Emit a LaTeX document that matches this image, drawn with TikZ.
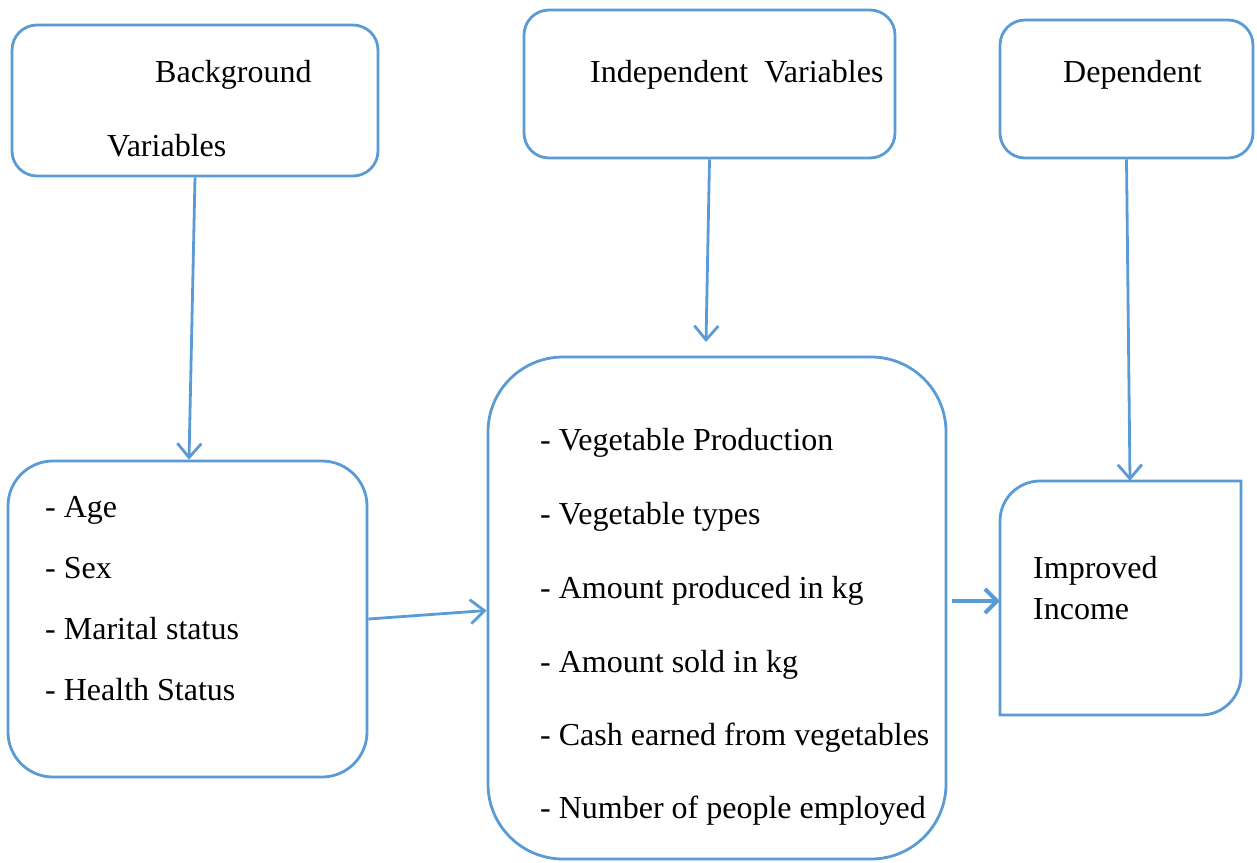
\documentclass[tikz,border=0pt]{standalone}
\usepackage{fontspec}
\setmainfont{Liberation Serif}
\usetikzlibrary{arrows.meta,calc}
\definecolor{lineblue}{HTML}{5B9BD5}
\begin{document}
\begin{tikzpicture}[x=1pt,y=-1pt,
  box/.style={draw=lineblue,line width=2.8pt,rectangle,inner sep=0pt},
  lbl/.style={anchor=base west,inner sep=0pt,font=\fontsize{32}{38}\selectfont},
  conn/.style={draw=lineblue,line width=2.8pt,-{Straight Barb[length=14pt,width=24pt,line width=2.8pt]}},
  thickconn/.style={draw=lineblue,line width=4pt,-{Straight Barb[length=12pt,width=24pt,line width=4pt]}}]
\useasboundingbox (0,0) rectangle (1257,862);
% boxes
\node[box,rounded corners=25pt,minimum width=366pt,minimum height=151pt] (bg) at (195,100.5) {};
\node[box,rounded corners=25pt,minimum width=371pt,minimum height=148pt] (ind) at (709.5,84) {};
\node[box,rounded corners=25pt,minimum width=253pt,minimum height=138pt] (dep) at (1126.5,89) {};
\node[box,rounded corners=45pt,minimum width=359pt,minimum height=316pt] (left) at (187.5,619) {};
\node[box,rounded corners=75pt,minimum width=458pt,minimum height=502pt] (mid) at (717,608) {};
\node[inner sep=0pt,minimum width=241pt,minimum height=234pt] (inc) at (1120.5,598) {};
\draw[draw=lineblue,line width=2.8pt] (1000,521) arc(180:270:40) -- (1241,481) -- (1241,675) arc(0:90:40) -- (1000,715) -- cycle;
% texts
\node[lbl] (t1) at (155,82) {Background};
\node[lbl] (t2) at (107,156) {Variables};
\node[lbl] (t3) at (590,82) {Independent\ \ Variables};
\node[lbl] (t4) at (1063,82) {Dependent};
\node[lbl] (a1) at (45,517) {- Age};
\node[lbl] (a2) at (45,578) {- Sex};
\node[lbl] (a3) at (45,639) {- Marital status};
\node[lbl] (a4) at (45,700) {- Health Status};
\node[lbl] (b1) at (540,450) {- Vegetable Production};
\node[lbl] (b2) at (540,524) {- Vegetable types};
\node[lbl] (b3) at (540,598) {- Amount produced in kg};
\node[lbl] (b4) at (540,672) {- Amount sold in kg};
\node[lbl] (b5) at (540,745) {- Cash earned from vegetables};
\node[lbl] (b6) at (540,818) {- Number of people employed};
\node[lbl] (c1) at (1033,578) {Improved};
\node[lbl] (c2) at (1033,619) {Income};
% connectors
\coordinate (indend) at (706,342);
\coordinate (midstart) at (952,601);
\draw[conn] (bg.south) -- ($(left.north)+(1.5,0)$);
\draw[conn] (ind.south) -- (indend);
\draw[conn] (dep.south) -- ($(inc.north)+(9.5,0)$);
\draw[conn] (left.east) -- ($(mid.west)+(0,2.5)$);
\draw[thickconn] (midstart) -- ($(inc.west)+(0,3)$);
\end{tikzpicture}
\end{document}
